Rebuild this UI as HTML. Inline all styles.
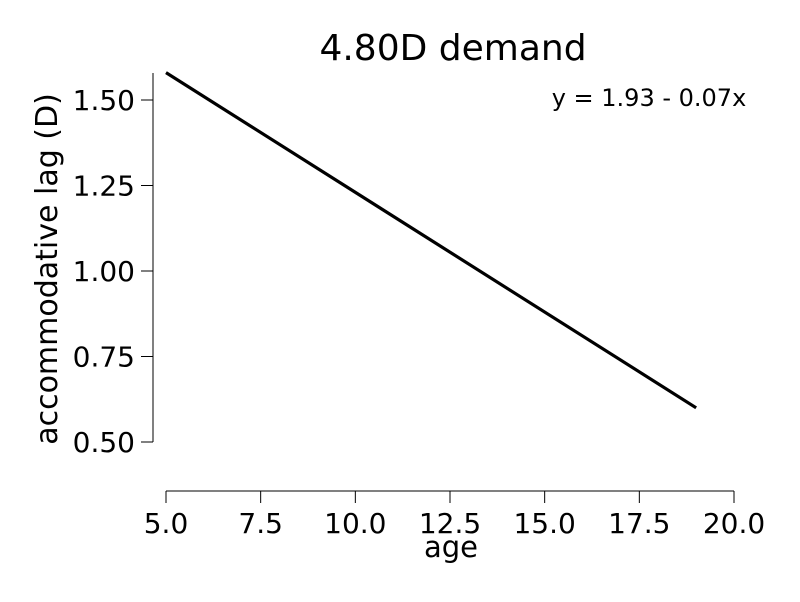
<!DOCTYPE html>
<html><head><meta charset="utf-8"><style>
body{margin:0;background:#fff}
svg text{font-family:"DejaVu Sans","Liberation Sans",sans-serif;fill:#000}
</style></head><body>
<svg width="800" height="597" xmlns="http://www.w3.org/2000/svg">
<text x="453" y="60" font-size="36" text-anchor="middle">4.80D demand</text>
<text x="649" y="106" font-size="24" text-anchor="middle">y = 1.93 - 0.07x</text>
<g id="axes"></g>
<text x="451" y="557" font-size="29" text-anchor="middle">age</text>
<text transform="translate(57,269) rotate(-90)" font-size="30" text-anchor="middle">accommodative lag (D)</text>
</svg>
<script>
const xTicks=[5.0,7.5,10.0,12.5,15.0,17.5,20.0];
const yTicks=[0.50,0.75,1.00,1.25,1.50];
const ages=[5,19];
const intercept=[1.93];
const slope=[-0.07];
const X=v=>166+(v-5)*(734-166)/15;
const Y=v=>442-(v-0.5)*342;
const g=document.getElementById('axes');
const NS='http://www.w3.org/2000/svg';
function mk(t,a){const e=document.createElementNS(NS,t);for(const k in a)e.setAttribute(k,a[k]);g.appendChild(e);return e;}
let e=mk('line',{x1:166,x2:734,y1:491,y2:491,stroke:'#000','stroke-width':1});


e=mk('line',{x1:153,x2:153,y1:73,y2:442,stroke:'#000','stroke-width':1});


xTicks.forEach(v=>{
 let t=mk('line',{x1:X(v),x2:X(v),y1:491,y2:503,stroke:'#000'});
 
 
 let l=mk('text',{x:X(v),y:533,'font-size':28,'text-anchor':'middle'});l.textContent=v.toFixed(1);
 
 
});
yTicks.forEach(v=>{
 let t=mk('line',{x1:141,x2:153,y1:Y(v),y2:Y(v),stroke:'#000'});
 
 
 let l=mk('text',{x:135,y:Y(v)+10,'font-size':28,'text-anchor':'end'});l.textContent=v.toFixed(2);
 
 
});
const f=a=>intercept[0]+slope[0]*a;
let ln=mk('line',{x1:X(ages[0]),y1:Y(f(ages[0])),x2:X(ages[1]),y2:Y(f(ages[1])),stroke:'#000','stroke-width':3.2});


</script>
</body></html>
